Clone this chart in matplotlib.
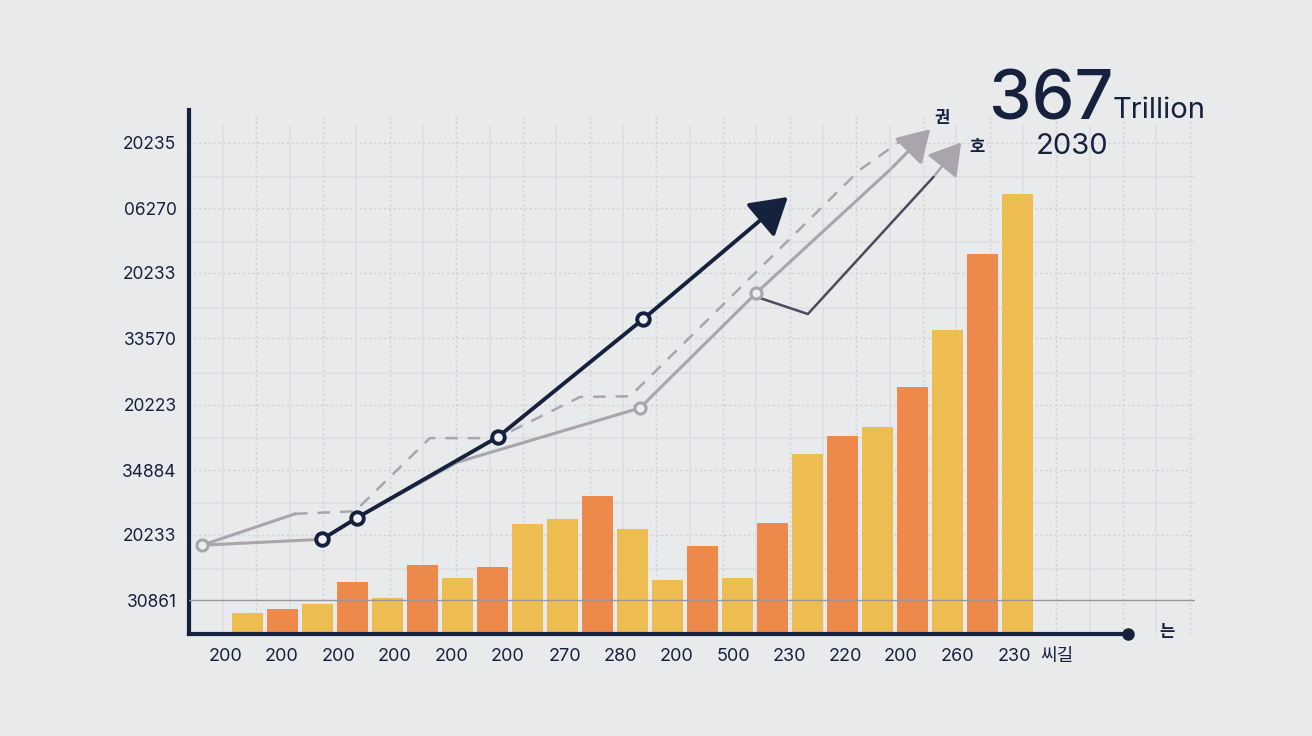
import numpy as np
import matplotlib
matplotlib.use("Agg")
import matplotlib.pyplot as plt

plt.rcParams['font.family'] = ['Inter', 'Noto Sans CJK KR', 'DejaVu Sans']

# bar values (arbitrary units, one per bar)
bar_vals = [0.32, 0.38, 0.46, 0.80, 0.55, 1.06, 0.86, 1.03, 1.68, 1.76, 2.11, 1.61,
            0.83, 1.35, 0.86, 1.70, 2.76, 3.03, 3.17, 3.78, 4.66, 5.82, 6.74]
bar_kind = ['y', 'o', 'y', 'o', 'y', 'o', 'y', 'o', 'y', 'y', 'o', 'y',
            'y', 'o', 'y', 'o', 'y', 'o', 'y', 'o', 'y', 'o', 'y']

# x tick labels (positions in bar-index units)
xtick_pos = [-0.64, 0.96, 2.61, 4.21, 5.84, 7.44, 9.07, 10.64, 12.27, 13.87,
             15.47, 17.07, 18.67, 20.27, 21.9, 23.13]
xtick_lab = ['200', '200', '200', '200', '200', '200', '270', '280', '200', '500',
             '230', '220', '200', '260', '230', '씨길']

ytick_pos = [0.52, 1.52, 2.51, 3.51, 4.53, 5.53, 6.52, 7.52]
ytick_lab = ['30861', '20233', '34884', '20223', '33570', '20233', '06270', '20235']

# line series
navy_x = [2.13, 3.13, 7.16, 11.3]
navy_y = [1.45, 1.78, 3.02, 4.82]
navy_tip = (15.5, 6.72)

gray_x = [-1.3, 2.13, 3.13, 5.99, 11.21, 14.53, 18.36]
gray_y = [1.36, 1.45, 1.78, 2.63, 3.46, 5.22, 7.11]
gray_tip = (19.56, 7.76)

gray2_x = [-1.3, 1.36]
gray2_y = [1.36, 1.84]

dash_x = [1.36, 3.07, 5.21, 7.13, 9.5, 10.93, 17.5, 18.79]
dash_y = [1.84, 1.88, 3.0, 3.0, 3.63, 3.64, 7.11, 7.6]

slate_x = [14.56, 16.01, 19.6]
slate_y = [5.16, 4.90, 7.0]
slate_tip = (20.44, 7.56)

BG = '#e9eaec'
NAVY = '#16213e'
YEL = '#eebd52'
ORA = '#ec894b'
GRAY = '#aaa5ad'
SLATE = '#4a4b5d'

fig = plt.figure(figsize=(13.12, 7.36), dpi=100, facecolor=BG)
ax = fig.add_axes([189/1312, 1 - 634/736, (1195-189)/1312, (634-110)/736])
ax.set_facecolor(BG)
ax.set_xlim((189-247.5)/35, (1195-247.5)/35)
ax.set_ylim(0, 524/65.3)

# grid
for v in range(1, 8):
    ax.axhline(v, color='#dedfe2', lw=1.2, zorder=0)
for v in ytick_pos[1:]:
    ax.axhline(v, color='#cfd0d3', lw=1, ls=(0, (1.5, 2)), zorder=0)
for gx in np.arange(-0.7, 27, 1.905):
    ax.axvline(gx, ymax=0.97, color='#dedfe2', lw=1.2, zorder=0)
    ax.axvline(gx + 0.952, ymax=0.99, color='#cfd0d3', lw=1, ls=(0, (1.5, 2)), zorder=0)

colors = [YEL if k == 'y' else ORA for k in bar_kind]
ax.bar(np.arange(len(bar_vals)), bar_vals, width=0.89, color=colors, zorder=2)
ax.axhline(ytick_pos[0], color='#9a969c', lw=1, zorder=3)

# lines
ax.plot(gray_x, gray_y, color=GRAY, lw=2.2, zorder=4, solid_capstyle='round')
ax.plot(gray2_x, gray2_y, color=GRAY, lw=2.2, zorder=4)
ax.plot(dash_x, dash_y, color=GRAY, lw=1.8, ls=(0, (5, 4)), zorder=4)
ax.plot(slate_x, slate_y, color=SLATE, lw=1.8, zorder=4)
ax.plot([gray_x[0], gray_x[4], gray_x[5]], [gray_y[0], gray_y[4], gray_y[5]], 'o',
        ms=8, mfc='#eceef0', mec=GRAY, mew=2.2, zorder=5)
ax.annotate('', xy=gray_tip, xytext=(gray_x[-1], gray_y[-1]),
            arrowprops=dict(arrowstyle='-|>,head_length=1.4,head_width=0.85',
                            color=GRAY, lw=2.2, mutation_scale=14), zorder=5)
ax.annotate('', xy=slate_tip, xytext=(slate_x[-1], slate_y[-1]),
            arrowprops=dict(arrowstyle='-|>,head_length=1.4,head_width=0.85',
                            facecolor=GRAY, edgecolor=GRAY, lw=1.8, mutation_scale=14), zorder=5)

ax.plot(navy_x, navy_y, color=NAVY, lw=2.8, zorder=6)
ax.annotate('', xy=navy_tip, xytext=(navy_x[-1], navy_y[-1]),
            arrowprops=dict(arrowstyle='-|>,head_length=1.4,head_width=0.85',
                            color=NAVY, lw=2.8, mutation_scale=16), zorder=6)
ax.plot(navy_x, navy_y, 'o', ms=9, mfc='#eef0f2', mec=NAVY, mew=2.8, zorder=7)

# axes
for s in ['top', 'right']:
    ax.spines[s].set_visible(False)
ax.spines['left'].set_color(NAVY)
ax.spines['left'].set_linewidth(3)
ax.spines['bottom'].set_color(NAVY)
ax.spines['bottom'].set_linewidth(3)
x_end = (1128-247.5)/35
ax.spines['bottom'].set_bounds(ax.get_xlim()[0], x_end)
ax.plot([x_end], [0], 'o', ms=8, color=NAVY, clip_on=False, zorder=8)

ax.set_xticks(xtick_pos)
ax.set_xticklabels(xtick_lab, fontsize=13, color=NAVY)
ax.set_yticks(ytick_pos)
ax.set_yticklabels(ytick_lab, fontsize=12.5, color=NAVY)
ax.tick_params(axis='x', length=0, pad=10)
ax.tick_params(axis='y', length=0, pad=9)

# headline
fig.text(989/1312, 1 - 119/736, '367', fontsize=49, color=NAVY, weight='medium',
         ha='left', va='baseline')
fig.text(1113/1312, 1 - 118/736, 'Trillion', fontsize=21, color=NAVY,
         ha='left', va='baseline')
fig.text(1072/1312, 1 - 146/736, '2030', fontsize=21, color=NAVY, ha='center', va='center')
fig.text(942/1312, 1 - 118/736, '권', fontsize=12, color=NAVY, weight='bold', ha='center', va='center')
fig.text(977/1312, 1 - 148/736, '호', fontsize=12, color=NAVY, weight='bold', ha='center', va='center')
fig.text(1167/1312, 1 - 632/736, '는', fontsize=12, color=NAVY, weight='bold', ha='center', va='center')

fig.savefig('out.png', dpi=100, facecolor=BG)
